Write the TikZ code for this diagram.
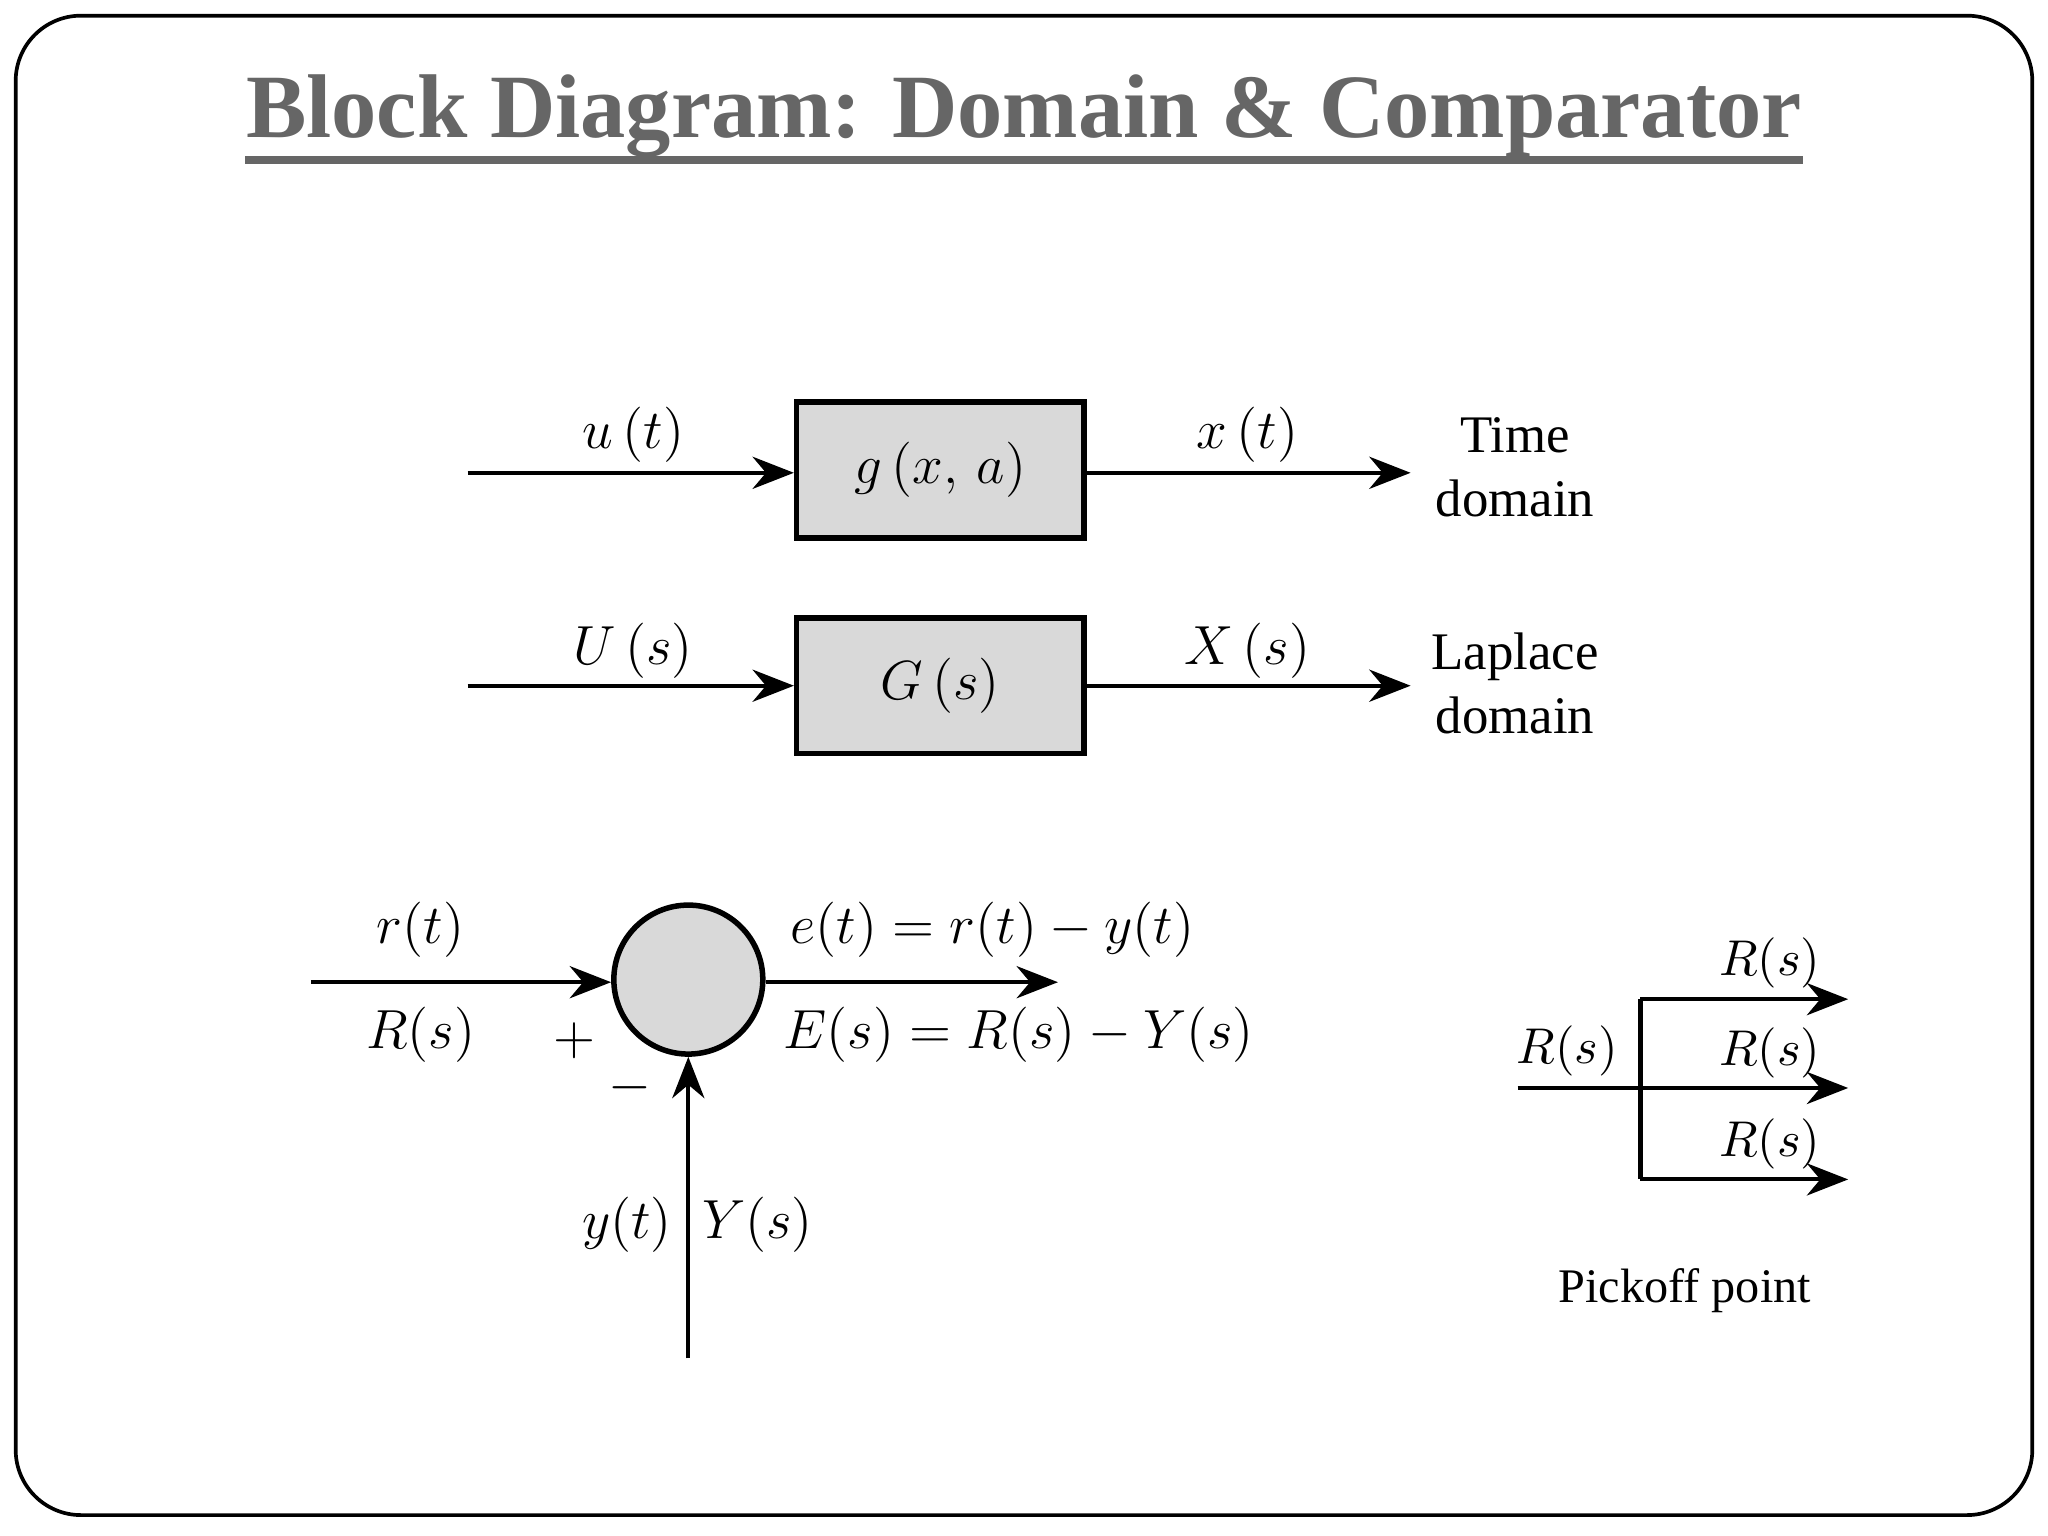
\documentclass[tikz,border=0pt]{standalone}
\usepackage{fontspec}
\setmainfont{Liberation Serif}
\usetikzlibrary{arrows.meta}
\begin{document}
\begin{tikzpicture}[x=0.01cm,y=-0.01cm,
  lbl/.style={font=\fontsize{11.5}{14}\selectfont, inner sep=1pt},
  blk/.style={draw, line width=1.2pt, fill=black!15, minimum width=2.2cm, minimum height=1.04cm, font=\fontsize{12}{14}\selectfont},
  sig/.style={line width=0.9pt, -{Stealth[length=9pt,width=7pt]}},
  ln/.style={line width=0.9pt}]
\useasboundingbox (0,0) rectangle (1568,1176);
\draw[line width=0.8pt, rounded corners=0.5cm] (12,12) rectangle (1556,1160);
\node[font=\bfseries\fontsize{19.7}{23}\selectfont, text=black!60, inner sep=0pt, anchor=base] (title) at (784,105) {Block Diagram: Domain \& Comparator};
\draw[black!60, line width=1.6pt] ([yshift=-5pt]title.base west) -- ([yshift=-5pt]title.base east);
% block 1
\node[blk] (g) at (720,360) {$g\,(x,\,a)$};
\coordinate (gin) at (358,362);
\coordinate (gout) at (1080,362);
\draw[sig] (gin) -- (g.west |- gin);
\draw[sig] (g.east |- gout) -- (gout);
\node[lbl] (ut) at (485,333) {$u\,(t)$};
\node[lbl] (xt) at (955,333) {$x\,(t)$};
\node[lbl, align=center] (td) at (1160,358) {Time\\domain};
% block 2
\node[blk] (G) at (720,525) {$G\,(s)$};
\coordinate (Gin) at (358,525);
\coordinate (Gout) at (1080,525);
\draw[sig] (Gin) -- (G.west |- Gin);
\draw[sig] (G.east |- Gout) -- (Gout);
\node[lbl] (Us) at (485,498) {$U\,(s)$};
\node[lbl] (Xs) at (955,498) {$X\,(s)$};
\node[lbl, align=center] (ld) at (1160,523) {Laplace\\domain};
% comparator
\node[circle, draw, line width=1.2pt, fill=black!15, minimum size=1.14cm] (c) at (527,750) {};
\coordinate (cin) at (238,752);
\coordinate (cout) at (810,752);
\coordinate (fb) at (527,1040);
\draw[sig] (cin) -- (c.west |- cin);
\draw[sig] (c.east |- cout) -- (cout);
\draw[sig] (fb) -- (c.south);
\node[lbl] (rt) at (322,712) {$r(t)$};
\node[lbl] (Rs) at (322,792) {$R(s)$};
\node[lbl] (plus) at (440,797) {$+$};
\node[lbl] (minus) at (482,833) {$-$};
\node[lbl] (et) at (760,712) {$e(t) = r(t) - y(t)$};
\node[lbl] (Es) at (780,792) {$E(s) = R(s) - Y(s)$};
\node[lbl] (yt) at (480,938) {$y(t)$};
\node[lbl] (Ys) at (580,938) {$Y(s)$};
% pickoff
\coordinate (pin) at (1162,833);
\coordinate (pj) at (1256,833);
\coordinate (pt) at (1256,765);
\coordinate (pb) at (1256,903);
\coordinate (o1) at (1415,765);
\coordinate (o2) at (1415,833);
\coordinate (o3) at (1415,903);
\draw[ln] (pin) -- (pj);
\draw[ln] (pt) -- (pb);
\draw[sig] (pt) -- (o1);
\draw[sig] (pj) -- (o2);
\draw[sig] (pb) -- (o3);
\node[lbl, font=\fontsize{10.5}{12}\selectfont] (r0) at (1200,805) {$R(s)$};
\node[lbl, font=\fontsize{10.5}{12}\selectfont] (r1) at (1355,737) {$R(s)$};
\node[lbl, font=\fontsize{10.5}{12}\selectfont] (r2) at (1355,806) {$R(s)$};
\node[lbl, font=\fontsize{10.5}{12}\selectfont] (r3) at (1355,876) {$R(s)$};
\node[lbl, font=\fontsize{10.5}{12}\selectfont] (pk) at (1290,988) {Pickoff point};
\end{tikzpicture}
\end{document}
